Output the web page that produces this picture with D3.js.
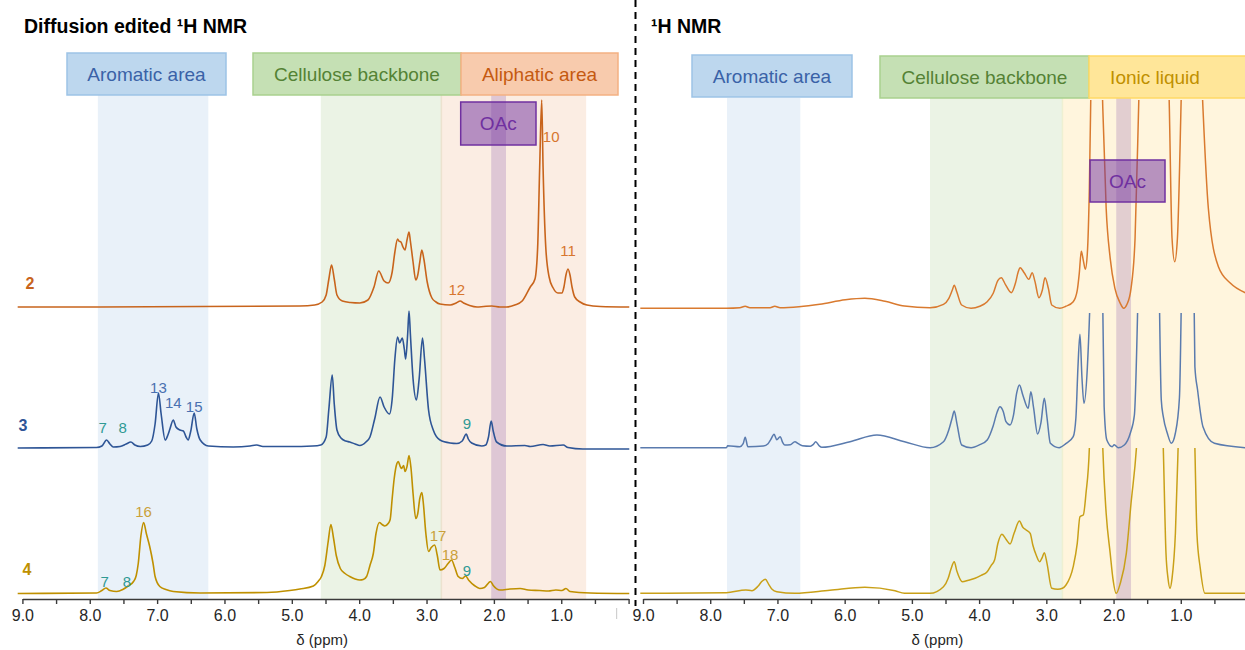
<!DOCTYPE html>
<html><head><meta charset="utf-8">
<script src="https://cdn.jsdelivr.net/npm/d3@7"></script>
<style>
html,body{margin:0;padding:0;background:#fff;}
svg{display:block;font-family:"Liberation Sans",Arial,Helvetica,sans-serif;}
</style></head><body>
<svg id="chart" width="1245" height="650"></svg>
<script>
// ---------------- DATA ----------------
const tickValues = [9,8.5,8,7.5,7,6.5,6,5.5,5,4.5,4,3.5,3,2.5,2,1.5,1,0.5,0];
const tickLabels = ["9.0","8.0","7.0","6.0","5.0","4.0","3.0","2.0","1.0",""];
const sampleNames = ["2","3","4"];

// Diffusion edited 1H NMR : [ppm, intensity]
const dif2 = [[9.07,0],[7.85,0],[6.36,0.5],[4.88,1],[4.66,2],[4.55,5],[4.49,12],[4.45,28],[4.41,42],[4.37,28],[4.33,12],[4.25,6],[4.13,4.5],[3.99,4],[3.87,7],[3.78,20],[3.71,36],[3.63,26],[3.57,24],[3.51,35],[3.47,55],[3.43,68],[3.41,66],[3.38,65],[3.35,60],[3.32,57],[3.29,67],[3.26,75],[3.24,66],[3.20,45],[3.16,27],[3.13,32],[3.10,45],[3.07,57],[3.04,48],[2.99,25],[2.92,9],[2.86,5],[2.80,3],[2.65,2],[2.56,4],[2.50,6],[2.45,4],[2.36,1.5],[2.25,0],[2.15,0.5],[2.03,1],[1.91,0],[1.81,0],[1.69,2],[1.58,6],[1.46,20],[1.39,28],[1.35,60],[1.32,140],[1.29,207],[1.27,140],[1.23,60],[1.18,30],[1.12,19],[1.05,14],[0.99,14],[0.96,20],[0.93,32],[0.90,38],[0.87,32],[0.84,20],[0.80,10],[0.72,5],[0.62,2],[0.42,0.5],[-0.01,0]];
const dif3 = [[9.07,1],[7.90,1.5],[7.82,3],[7.75,9],[7.70,5],[7.65,2],[7.55,2.5],[7.46,5],[7.39,7],[7.33,4],[7.25,2.5],[7.14,4],[7.08,8],[7.03,25],[6.98,56],[6.94,35],[6.88,9],[6.84,14],[6.81,20],[6.76,29],[6.72,22],[6.66,19],[6.61,18],[6.57,12],[6.54,9],[6.50,18],[6.45,36],[6.41,20],[6.36,9],[6.24,3],[5.87,2],[5.62,3],[5.52,4],[5.43,2.5],[5.03,2.5],[4.69,3],[4.57,4],[4.49,12],[4.45,40],[4.40,74],[4.37,45],[4.33,19],[4.27,11],[4.20,8],[4.14,7],[4.06,5],[3.99,3.5],[3.90,7],[3.84,12],[3.77,30],[3.69,52],[3.63,42],[3.55,35],[3.51,50],[3.47,90],[3.43,112],[3.40,106],[3.36,111],[3.33,100],[3.31,90],[3.28,115],[3.26,138],[3.24,115],[3.20,70],[3.15,49],[3.11,70],[3.06,111],[3.03,90],[2.97,39],[2.90,19],[2.80,9],[2.65,6],[2.55,5.5],[2.47,8],[2.41,15],[2.38,10],[2.33,6],[2.18,3],[2.12,4],[2.08,12],[2.04,28],[2.01,18],[1.96,7],[1.81,3],[1.54,3.5],[1.46,2.5],[1.27,4.5],[1.17,3],[0.97,4],[0.90,1.5],[0.68,0],[-0.01,0]];
const dif4 = [[9.07,0],[7.90,0.5],[7.82,3],[7.76,5.5],[7.70,3],[7.60,2],[7.51,4],[7.43,7.5],[7.35,12],[7.31,18],[7.28,30],[7.24,58],[7.20,71],[7.16,60],[7.11,47],[7.06,30],[7.03,17],[6.96,7],[6.87,4],[6.76,2],[6.36,0.5],[5.37,1],[5.03,3],[4.88,4.5],[4.68,7.5],[4.61,12],[4.56,17],[4.51,28],[4.46,52],[4.42,69],[4.38,55],[4.34,38],[4.28,25],[4.21,20],[4.14,17],[4.06,14.5],[3.99,13.5],[3.94,14],[3.89,17],[3.84,28],[3.79,40],[3.75,60],[3.70,71],[3.66,69],[3.62,67.5],[3.57,70],[3.54,74],[3.51,95],[3.48,115],[3.44,130],[3.42,132],[3.39,127],[3.37,125],[3.34,128],[3.32,122],[3.29,127],[3.26,138],[3.23,125],[3.20,100],[3.16,75],[3.13,80],[3.10,95],[3.07,101],[3.05,92],[3.01,60],[2.97,42],[2.93,46],[2.88,48.5],[2.84,38],[2.80,23.5],[2.74,25],[2.68,30],[2.63,33.5],[2.58,26],[2.53,17],[2.47,15],[2.42,17.5],[2.37,13],[2.29,8],[2.21,5],[2.14,6],[2.05,12],[2.01,8],[1.91,3.5],[1.76,4.5],[1.61,5],[1.49,3.5],[1.32,3],[1.19,2.5],[1.08,3.5],[0.99,3],[0.93,5],[0.87,2],[0.57,0.5],[-0.01,0]];

// 1H NMR : [ppm, intensity]
const ref2 = [[9.04,0],[7.76,0],[7.56,0.5],[7.48,2],[7.41,0.5],[7.11,0.5],[7.04,2],[6.96,0.5],[6.68,1.5],[6.37,4],[5.99,8.5],[5.70,10],[5.40,7],[5.11,2.3],[4.73,0.6],[4.53,4],[4.45,10],[4.40,18],[4.37,23],[4.33,16],[4.26,3.3],[4.12,0],[3.99,2],[3.88,6.6],[3.79,15],[3.72,28],[3.67,30.6],[3.61,24],[3.52,15.6],[3.46,25],[3.42,36],[3.39,40.6],[3.33,35.6],[3.26,29],[3.21,35.6],[3.17,27],[3.11,10.6],[3.06,18],[3.02,30.6],[2.97,20],[2.92,3.3],[2.80,0],[2.71,2],[2.60,6.6],[2.54,18],[2.51,35],[2.48,57],[2.45,48],[2.42,39],[2.39,55],[2.36,120],[2.33,250],[2.26,500],[2.16,200],[2.11,100],[2.05,50],[1.98,20],[1.90,5],[1.85,0],[1.80,4],[1.74,20],[1.68,70],[1.62,220],[1.46,600],[1.31,600],[1.17,200],[1.13,70],[1.09,46.6],[1.05,70],[0.99,220],[0.86,600],[0.67,200],[0.59,100],[0.44,41.6],[0.26,25],[0.04,15.6]];
const ref3 = [[9.04,0],[7.76,0],[7.74,2],[7.56,1],[7.51,4],[7.48,10.4],[7.44,1],[7.21,1.7],[7.14,4],[7.10,8],[7.05,13.4],[7.01,8],[6.96,11],[6.92,5],[6.89,2.7],[6.81,3],[6.74,6],[6.69,4],[6.63,2],[6.51,1.5],[6.47,3],[6.43,6],[6.38,2],[6.34,0.4],[5.92,6],[5.52,12.7],[5.11,6],[4.73,0],[4.53,6],[4.45,18],[4.40,30],[4.37,36.7],[4.33,24],[4.26,2.7],[4.12,0],[3.99,3],[3.88,7.7],[3.79,22],[3.73,36],[3.69,41],[3.64,36],[3.60,26],[3.54,22.7],[3.49,32],[3.44,55],[3.40,62.7],[3.35,52.7],[3.27,39.4],[3.23,56],[3.19,40],[3.13,13.7],[3.08,25],[3.03,49.4],[2.99,30],[2.94,4.4],[2.81,0],[2.71,4],[2.60,11],[2.56,30],[2.53,80],[2.50,113.4],[2.47,70],[2.44,44.4],[2.39,80],[2.33,200],[2.26,500],[2.17,200],[2.14,41],[2.10,7.7],[2.02,1],[1.99,3],[1.93,0],[1.84,2.7],[1.75,14.7],[1.69,32.7],[1.62,200],[1.49,600],[1.33,200],[1.29,47.7],[1.26,31],[1.20,14.4],[1.14,4.4],[1.08,14.7],[1.02,50],[0.98,200],[0.89,600],[0.81,200],[0.79,81],[0.75,57.7],[0.67,21],[0.50,4.4],[0.04,0]];
const ref4 = [[9.04,0],[7.76,0.6],[7.47,3.3],[7.38,2.6],[7.29,7],[7.23,12],[7.18,14],[7.13,9],[7.08,4],[7.01,1.6],[6.74,0],[6.22,3],[5.70,6],[5.25,2.5],[5.11,0],[4.73,0],[4.53,6.6],[4.46,15],[4.42,24],[4.37,31.6],[4.33,22],[4.25,11.6],[4.16,13],[4.06,15],[3.97,18],[3.88,21.6],[3.82,28],[3.77,33.3],[3.72,50],[3.66,59],[3.60,54],[3.54,49.3],[3.48,60],[3.40,72.3],[3.35,66],[3.30,63.3],[3.24,60],[3.20,48],[3.15,38],[3.10,31.6],[3.06,36],[3.03,40.6],[2.99,30],[2.92,5],[2.83,4],[2.76,5],[2.71,8],[2.60,26.6],[2.54,50],[2.50,76.6],[2.45,78.3],[2.41,100],[2.36,145],[2.26,500],[2.16,145],[2.11,80],[2.05,40],[2.01,15],[1.96,0],[1.90,10],[1.81,40],[1.74,90],[1.66,145],[1.46,500],[1.26,145],[1.22,40],[1.19,15],[1.16,5],[1.13,15],[1.08,60],[1.04,145],[0.92,500],[0.79,145],[0.76,60],[0.71,25],[0.64,0],[0.04,0]];

// region bands (ppm)
const bandsDif = [["arom",7.88,6.24],["cell",4.57,2.78],["aliph",2.78,0.63],["oac",2.04,1.82]];
const bandsRef = [["arom",7.75,6.66],["cell",4.73,2.76],["il",2.76,-0.1],["oac",1.96,1.74]];

// peak labels: [text, ppm, intensity-position, colour key]
const labelsDif2 = [["10",1.15,170,"o"],["11",0.90,56,"o"],["12",2.55,17,"o"]];
const labelsDif3 = [["7",7.81,21,"t"],["8",7.51,21,"t"],["13",6.98,61,"b"],["14",6.76,46,"b"],["15",6.45,42,"b"],["9",2.40,25,"t"]];
const labelsDif4 = [["16",7.20,82,"g"],["7",7.78,12,"t"],["8",7.45,12,"t"],["17",2.83,58,"g"],["18",2.65,39,"g"],["9",2.40,23,"t"]];

// ---------------- DRAW ----------------
const svg = d3.select("#chart");
const font = '"Liberation Sans",Arial,Helvetica,sans-serif';

const xL = d3.scaleLinear().domain([9,0]).range([22.4,628.6]);
const xR = d3.scaleLinear().domain([9,0]).range([643,1248]);

const baseL = [307,449,593.5];
const baseR = [308.3,447.7,593.3];
const clipTopR = [100,313,448];
const bandTop = {L:95,R:98};
const axisY = 599;

const bandFill = {arom:"#e9f1f9",cell:"#ebf3e5",aliph:"#fbede3",il:"#fff5dd",oac:"rgba(112,48,160,0.2)"};
const colL = ["#c8641c","#2e5596","#bf9000"];
const colR = ["#d97a2f","#5a7bae","#c9a018"];
const labCol = {o:"#d7762f",b:"#4a70b0",t:"#2f9a94",g:"#c9a13a"};

function drawBands(x, bands, top, clipRight){
  bands.forEach(([k,a,b])=>{
    const x0 = x(a), x1 = Math.min(x(b), clipRight);
    svg.append("rect").attr("x",x0).attr("y",top).attr("width",x1-x0).attr("height",axisY-top).attr("fill",bandFill[k]);
  });
}
drawBands(xL, bandsDif, bandTop.L, 628);
drawBands(xR, bandsRef, bandTop.R, 1245);
svg.append("line").attr("x1",xL(2.78)).attr("x2",xL(2.78)).attr("y1",bandTop.L).attr("y2",axisY).attr("stroke","#ece2cf").attr("stroke-width",1.5);
svg.append("line").attr("x1",xR(2.76)).attr("x2",xR(2.76)).attr("y1",bandTop.R).attr("y2",axisY).attr("stroke","#eef0d2").attr("stroke-width",1.5);

// header boxes
function box(x0,y0,x1,y1,fill,stroke,text,tcol,tx,fs){
  svg.append("rect").attr("x",x0).attr("y",y0).attr("width",x1-x0).attr("height",y1-y0)
    .attr("fill",fill).attr("stroke",stroke).attr("stroke-width",1.5);
  svg.append("text").attr("x",tx==null?(x0+x1)/2:tx).attr("y",(y0+y1)/2).attr("dy","0.36em")
    .attr("text-anchor","middle").attr("fill",tcol).attr("font-size",fs||19).text(text);
}
box(67,53,226,95,"#bdd7ee","#9dc3e6","Aromatic area","#3a62a7");
box(253,53,461,95,"#c5e0b4","#a9d18e","Cellulose backbone","#548235");
box(461,53,618,95,"#f8cbad","#f4b183","Aliphatic area","#c55a11");
box(692,55,852,97,"#bdd7ee","#9dc3e6","Aromatic area","#3a62a7");
box(880,56,1089,98,"#c5e0b4","#a9d18e","Cellulose backbone","#548235");
box(1089,56,1250,98,"#ffe699","#ffd966","Ionic liquid","#bf9000",1155);

// traces
const defs = svg.append("defs");
function trace(data, x, base, color, clipTop, clipX0, clipX1, id, w){
  const y = d3.scaleLinear().domain([0,100]).range([base, base-100]);
  const line = d3.line().x(d=>x(d[0])).y(d=>y(d[1])).curve(d3.curveMonotoneX);
  defs.append("clipPath").attr("id",id).append("rect")
    .attr("x",clipX0).attr("y",clipTop).attr("width",clipX1-clipX0).attr("height",650-clipTop);
  svg.append("path").datum(data).attr("d",line).attr("fill","none")
    .attr("stroke",color).attr("stroke-width",w).attr("stroke-linejoin","round")
    .attr("clip-path",`url(#${id})`);
  return y;
}
const difData = [dif2,dif3,dif4], refData=[ref2,ref3,ref4];
const yL = difData.map((d,i)=>trace(d,xL,baseL[i],colL[i],0,0,630,"cl"+i,1.6));
refData.forEach((d,i)=>trace(d,xR,baseR[i],colR[i],clipTopR[i],638,1245,"cr"+i,1.5));

// OAc boxes
function oacBox(x0,y0,x1,y1){
  svg.append("rect").attr("x",x0).attr("y",y0).attr("width",x1-x0).attr("height",y1-y0)
    .attr("fill","rgba(112,48,160,0.5)").attr("stroke","#7030a0").attr("stroke-width",1.5);
  svg.append("text").attr("x",(x0+x1)/2).attr("y",(y0+y1)/2).attr("dy","0.36em")
    .attr("text-anchor","middle").attr("fill","#7030a0").attr("font-size",19).text("OAc");
}
oacBox(460.7,102,536,145);
oacBox(1090,160,1165,202);

// peak labels
[labelsDif2,labelsDif3,labelsDif4].forEach((labs,i)=>{
  labs.forEach(([t,p,v,c])=>{
    svg.append("text").attr("x",xL(p)).attr("y",yL[i](v)).attr("dy","0.36em")
      .attr("text-anchor","middle").attr("fill",labCol[c]).attr("font-size",15).text(t);
  });
});

// sample numbers
sampleNames.forEach((s,i)=>{
  svg.append("text").attr("x",[30,23,27][i]).attr("y",baseL[i]-24).attr("dy","0.36em")
    .attr("text-anchor","middle").attr("font-weight","bold").attr("font-size",16)
    .attr("fill",colL[i]).text(s);
});

// axes
function drawAxis(x){
  const ax = d3.axisBottom(x).tickValues(tickValues).tickSize(5).tickSizeOuter(0).tickPadding(6)
    .tickFormat(d=> Number.isInteger(d) ? tickLabels[9-d] : "");
  const g = svg.append("g").attr("transform",`translate(0,${axisY})`).call(ax);
  g.select(".domain").attr("stroke","#3a3a3a").attr("stroke-width",1.6);
  g.selectAll(".tick line").attr("stroke","#3a3a3a").attr("stroke-width",1.4);
  g.selectAll(".tick text").attr("font-size",16).attr("fill","#262626").attr("font-family",font);
  return g;
}
drawAxis(xL);
drawAxis(xR);
// sliver of the hidden left-panel end label
svg.append("rect").attr("x",616).attr("y",608).attr("width",1.2).attr("height",11).attr("fill","#d0d0d0");

svg.append("text").attr("x",xL(4.55)).attr("y",645).attr("text-anchor","middle").attr("font-size",15).attr("fill","#262626").text("δ (ppm)");
svg.append("text").attr("x",xR(4.62)).attr("y",645).attr("text-anchor","middle").attr("font-size",15).attr("fill","#262626").text("δ (ppm)");

// titles
svg.append("text").attr("x",24).attr("y",33).attr("font-weight","bold").attr("font-size",19.5).attr("fill","#000").text("Diffusion edited ¹H NMR");
svg.append("text").attr("x",651).attr("y",33).attr("font-weight","bold").attr("font-size",19.5).attr("fill","#000").text("¹H NMR");

// dashed divider
svg.append("line").attr("x1",635.5).attr("x2",635.5).attr("y1",0).attr("y2",606)
  .attr("stroke","#000").attr("stroke-width",2).attr("stroke-dasharray","7,5");
</script></body></html>
